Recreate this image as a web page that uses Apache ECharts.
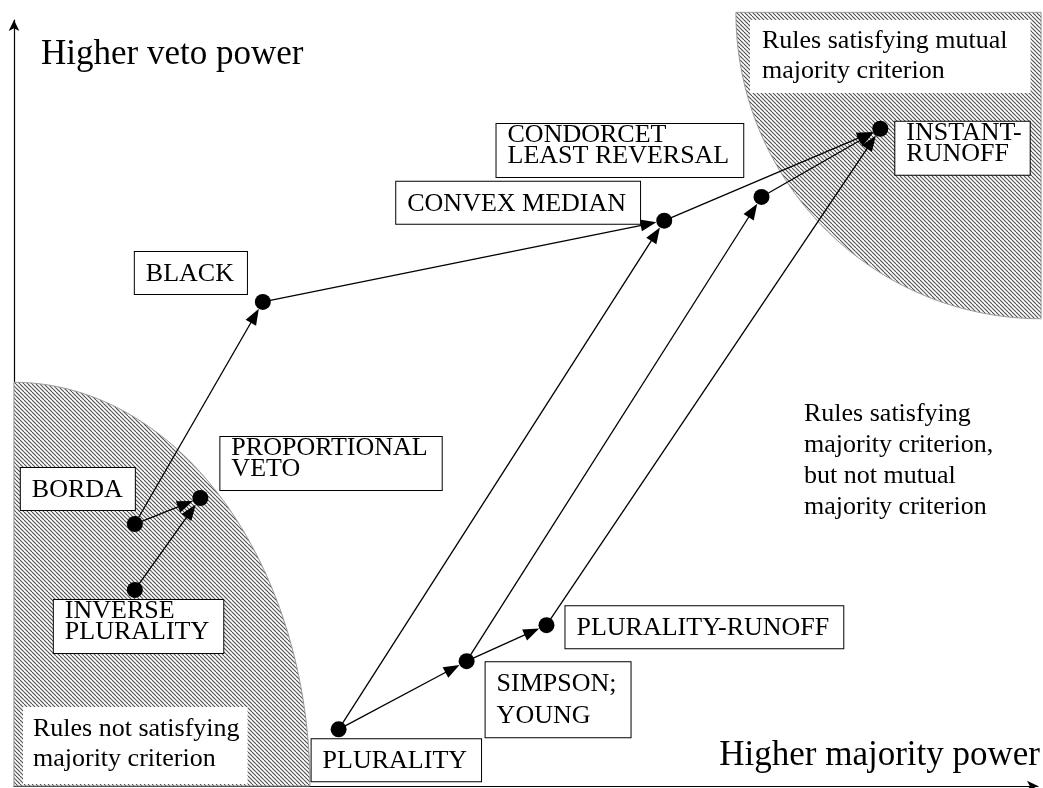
<!DOCTYPE html>
<html><head><meta charset="utf-8">
<script src="https://cdn.jsdelivr.net/npm/echarts@6/dist/echarts.min.js"></script>
<style>html,body{margin:0;padding:0;background:#fff}#chart{width:1043px;height:788px}</style>
</head><body><div id="chart"></div>
<script>
// ---- data ----
const ruleNames = ['PLURALITY', 'SIMPSON;\nYOUNG', 'PLURALITY-RUNOFF', 'INVERSE\nPLURALITY', 'BORDA',
  'PROPORTIONAL\nVETO', 'BLACK', 'CONVEX MEDIAN', 'CONDORCET\nLEAST REVERSAL', 'INSTANT-\nRUNOFF'];
const majorityPower = [31.7, 44.2, 52.0, 11.8, 11.8, 18.2, 24.3, 63.5, 73.0, 84.6];
const vetoPower     = [7.4, 16.3, 21.0, 25.6, 34.2, 37.6, 63.2, 73.8, 76.9, 85.8];
// arrows: from rule index -> to rule index
const edgeFrom = [0, 1, 0, 1, 2, 8, 7, 4, 6, 4, 3];
const edgeTo   = [1, 2, 7, 8, 9, 9, 9, 6, 7, 5, 5];
// criterion regions (quarter ellipses, data units)
const regionCenterX = [0, 100.3];
const regionCenterY = [0, 101.0];
const regionRadiusX = [28.9, 29.8];
const regionRadiusY = [52.7, 40.0];
const regionDirection = [1, -1];
const axisTitles = ['Higher majority power', 'Higher veto power'];
const regionCaptions = ['Rules satisfying mutual\nmajority criterion',
  'Rules not satisfying\nmajority criterion',
  'Rules satisfying\nmajority criterion,\nbut not mutual\nmajority criterion'];

// ---- layout / style (pixels) ----
const FONT = '"Liberation Serif", "Times New Roman", serif';
const DOT = 16;
const labelBoxDX = [-27, 19, 19, -81, -114, 20, -128, -268, -265, 15];
const labelBoxDY = [10, 1, -19, 10, -56, -61, -50, -39, -73, -7];
const labelLineH = [26, 32, 26, 21, 26, 21, 26, 26, 21, 21];
const labelPadTop = [9, 6, 9, 1, 9, 1, 9, 9, 1, 1];
const labelPadBottom = [7, 5, 7, 10, 7, 10, 7, 7, 10, 10];
const labelPadRight = [14, 14, 14, 14, 12, 14, 13, 14, 14, 8];

// hatch pattern
function makeHatch() {
  const T = 8, p = 4;
  const c = document.createElement('canvas');
  c.width = T; c.height = T;
  const ctx = c.getContext('2d');
  ctx.fillStyle = '#fff'; ctx.fillRect(0, 0, T, T);
  ctx.strokeStyle = '#505050'; ctx.lineWidth = 1.1;
  for (let k = -3; k <= 3; k++) {
    ctx.beginPath();
    ctx.moveTo(k * p, 0);
    ctx.lineTo(k * p + T, T);
    ctx.stroke();
  }
  return c;
}
const hatch = { image: makeHatch(), repeat: 'repeat' };

const chart = echarts.init(document.getElementById('chart'), null, { renderer: 'canvas' });

const pointData = ruleNames.map((n, i) => ({
  name: n,
  value: [majorityPower[i], vetoPower[i]],
  label: {
    position: [labelBoxDX[i] + DOT / 2, labelBoxDY[i] + DOT / 2],
    lineHeight: labelLineH[i],
    padding: [labelPadTop[i], labelPadRight[i], labelPadBottom[i], 11]
  }
}));
const arrowData = edgeFrom.map((f, i) => [majorityPower[f], vetoPower[f], majorityPower[edgeTo[i]], vetoPower[edgeTo[i]]]);
const regionData = regionCenterX.map((cx, i) => [cx, regionCenterY[i], regionRadiusX[i], regionRadiusY[i], regionDirection[i]]);

const axisCommon = {
  type: 'value', min: 0, max: 100,
  splitLine: { show: false }, axisTick: { show: false }, axisLabel: { show: false },
  axisLine: { show: true, onZero: false, symbol: ['none', 'arrow'], symbolSize: [8, 11],
    lineStyle: { color: '#000', width: 1.2 } }
};

chart.setOption({
  animation: false,
  backgroundColor: '#fff',
  grid: { left: 14, right: 3, top: 20, bottom: 2 },
  xAxis: Object.assign({}, axisCommon, {
    name: axisTitles[0], nameLocation: 'end', nameGap: 2,
    nameTextStyle: { fontFamily: FONT, fontSize: 35, color: '#000', align: 'right', verticalAlign: 'bottom',
      lineHeight: 35, padding: [0, 0, 13, 0] }
  }),
  yAxis: Object.assign({}, axisCommon, {
    name: axisTitles[1], nameLocation: 'end', nameGap: 0,
    nameTextStyle: { fontFamily: FONT, fontSize: 35, color: '#000', align: 'left', verticalAlign: 'top',
      lineHeight: 35, padding: [17, 0, 0, 27] }
  }),
  series: [
    {
      type: 'custom', name: 'regions', z: 1, silent: true,
      encode: { x: 0, y: 1 },
      data: regionData,
      renderItem(params, api) {
        const cx = api.value(0), cy = api.value(1), rx = api.value(2), ry = api.value(3), d = api.value(4);
        const pts = [api.coord([cx, cy])];
        const N = 120;
        for (let k = 0; k <= N; k++) {
          const t = (k / N) * Math.PI / 2;
          pts.push(api.coord([cx + d * rx * Math.cos(t), cy + d * ry * Math.sin(t)]));
        }
        return { type: 'polygon', shape: { points: pts },
          style: { fill: hatch, stroke: '#999', lineWidth: 1 } };
      }
    },
    {
      type: 'custom', name: 'arrows', z: 3, silent: true,
      encode: { x: [0, 2], y: [1, 3] },
      data: arrowData,
      renderItem(params, api) {
        const a = api.coord([api.value(0), api.value(1)]);
        const b = api.coord([api.value(2), api.value(3)]);
        const dx = b[0] - a[0], dy = b[1] - a[1], len = Math.hypot(dx, dy);
        const ux = dx / len, uy = dy / len;
        const R = DOT / 2, L = 16, W = 6;
        const tip = [b[0] - ux * R, b[1] - uy * R];
        const base = [tip[0] - ux * L, tip[1] - uy * L];
        const px = -uy, py = ux;
        return { type: 'group', children: [
          { type: 'line', shape: { x1: a[0], y1: a[1], x2: base[0] + ux * 2, y2: base[1] + uy * 2 },
            style: { stroke: '#000', lineWidth: 1.3 } },
          { type: 'polygon', shape: { points: [tip, [base[0] + px * W, base[1] + py * W], [base[0] - px * W, base[1] - py * W]] },
            style: { fill: '#000' } }
        ] };
      }
    },
    {
      type: 'scatter', name: 'rules', z: 4, silent: true,
      symbol: 'circle', symbolSize: DOT,
      itemStyle: { color: '#000', opacity: 1 },
      label: {
        show: true, formatter: p => p.name, align: 'left', verticalAlign: 'top',
        fontFamily: FONT, fontSize: 26, color: '#000',
        backgroundColor: '#fff', borderColor: '#000', borderWidth: 1
      },
      data: pointData
    }
  ],
  graphic: [
    { type: 'text', x: 750, y: 20, z: 50, silent: true,
      style: { text: regionCaptions[0], font: '26px ' + FONT, fill: '#000', lineHeight: 30,
        backgroundColor: '#fff', padding: [6, 23, 7, 12] } },
    { type: 'text', x: 23, y: 707, z: 50, silent: true,
      style: { text: regionCaptions[1], font: '26px ' + FONT, fill: '#000', lineHeight: 30,
        backgroundColor: '#fff', padding: [7, 8, 10, 10] } },
    { type: 'text', x: 804, y: 399, z: 50, silent: true,
      style: { text: regionCaptions[2], font: '26px ' + FONT, fill: '#000', lineHeight: 31 } }
  ]
});
</script>
</body></html>
